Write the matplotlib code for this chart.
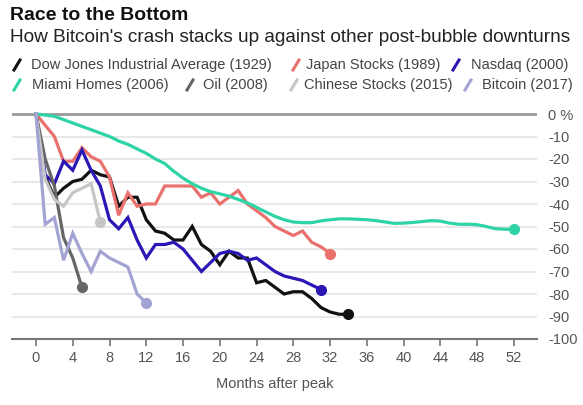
import matplotlib
matplotlib.use("Agg")
import matplotlib.pyplot as plt
from matplotlib.lines import Line2D

plt.rcParams['font.family'] = ['Liberation Sans', 'DejaVu Sans']

# values: % change from peak, one value per month after peak
dow_1929 = [0, -28, -37, -33, -30, -29, -25, -27, -28, -41, -37, -37, -47, -52, -53, -56, -56, -50,
            -58, -61, -67, -61, -64, -64, -75, -74, -77, -80, -79, -79, -82, -86, -88, -89, -89]
japan_1989 = [0, -5, -10, -21, -21, -15, -19, -21, -28, -45, -35, -41, -40, -40, -32, -32, -32,
              -32, -37, -35, -40, -37, -34, -40, -43, -46, -50, -52, -54, -52, -57, -59, -62]
nasdaq_2000 = [0, -27, -31, -21, -25, -16, -25, -32, -47, -51, -46, -56, -64, -58, -58, -57, -60,
               -65, -70, -66, -62, -61, -62, -65, -64, -67, -70, -72, -73, -74, -76, -78]
miami_2006 = [0, -0.5, -1, -2.5, -4, -5.5, -7, -8.5, -10, -12, -13.5, -15.5, -17.5, -20, -22,
              -25.5, -28.5, -31, -33, -34.5, -35.5, -36.5, -38, -39.5, -41.5, -43.5, -45.5, -47,
              -48, -48.3, -48.3, -47.5, -47, -46.6, -46.6, -46.8, -47, -47.4, -48, -48.6, -48.5,
              -48.2, -47.8, -47.4, -47.6, -48.5, -49, -49, -49.2, -50, -51, -51.2, -51.3]
oil_2008 = [0, -20, -32, -55, -64, -77]
china_2015 = [0, -29, -38, -41, -35, -33, -31, -48]
bitcoin_2017 = [0, -49, -46, -65, -53, -62, -70, -61, -64, -66, -68, -80, -84]

series = [
    ("Dow Jones Industrial Average (1929)", dow_1929, "#111111"),
    ("Japan Stocks (1989)", japan_1989, "#e8716d"),
    ("Nasdaq (2000)", nasdaq_2000, "#2a17b5"),
    ("Miami Homes (2006)", miami_2006, "#2ed3a6"),
    ("Oil (2008)", oil_2008, "#666666"),
    ("Chinese Stocks (2015)", china_2015, "#c6c6c6"),
    ("Bitcoin (2017)", bitcoin_2017, "#a3a3d4"),
]
# draw order (back to front)
draw_order = [3, 1, 0, 2, 5, 4, 6]

W, H = 583, 405
fig = plt.figure(figsize=(W / 100, H / 100), dpi=100)


def fx(x):
    return x / W


def fy(y):
    return 1 - y / H


# axes placed so that month 0 sits at x=36px and 0% at y=114px
ax = fig.add_axes([fx(12), 66 / H, (537 - 12) / W, (295.5 - 66) / H])
ax.set_xlim(-24 / 9.19, (537 - 36) / 9.19)
ax.set_ylim(-100, 2)

for i in draw_order:
    name, vals, col = series[i]
    months = list(range(len(vals)))
    ax.plot(months, vals, color=col, lw=2.3, solid_joinstyle='miter', zorder=3 + i * 0.01)
    ax.plot(months[-1], vals[-1], 'o', color=col, ms=7, zorder=3 + i * 0.01)

yticks = [0, -10, -20, -30, -40, -50, -60, -70, -80, -90, -100]
ylabels = ['0 %'] + [str(v) for v in yticks[1:]]
ax.set_yticks(yticks)
ax.set_yticklabels(ylabels)
ax.yaxis.tick_right()
ax.tick_params(axis='y', length=0, pad=8, labelsize=10.5, labelcolor='#555555')
for v in yticks[1:-1]:
    ax.axhline(v, color='#e4e4e4', lw=1.2, zorder=1)
ax.axhline(0, color='#9a9a9a', lw=2, zorder=2)

xticks = list(range(0, 53, 4))
ax.set_xticks(xticks)
ax.tick_params(axis='x', length=5, width=1.2, color='#777777', labelsize=10.5,
               labelcolor='#555555', pad=4)
for s in ['top', 'right', 'left']:
    ax.spines[s].set_visible(False)
ax.spines['bottom'].set_color('#777777')
ax.spines['bottom'].set_linewidth(1.5)
ax.set_xlabel('Months after peak', fontsize=10.5, color='#555555', labelpad=8)

# title block
fig.text(fx(10), fy(15), 'Race to the Bottom', fontsize=14, fontweight='bold',
         color='#111111', va='center')
fig.text(fx(10), fy(38), "How Bitcoin's crash stacks up against other post-bubble downturns",
         fontsize=13.7, color='#222222', va='center')

# legend with slash markers: (slash centre x, text x, y)
legend_pos = [(17, 31, 65), (296, 306, 65), (456, 471, 65),
              (17, 32, 85), (190, 203, 85), (294, 304, 85), (468, 482, 85)]
for (name, vals, col), (sx, tx, ly) in zip(series, legend_pos):
    fig.add_artist(Line2D([fx(sx - 3), fx(sx + 3)], [fy(ly + 5), fy(ly - 5)], color=col, lw=2.2,
                          transform=fig.transFigure))
    fig.text(fx(tx), fy(ly), name, fontsize=10.5, color='#444444', va='center')

fig.savefig('out.png', dpi=100, facecolor='white')
